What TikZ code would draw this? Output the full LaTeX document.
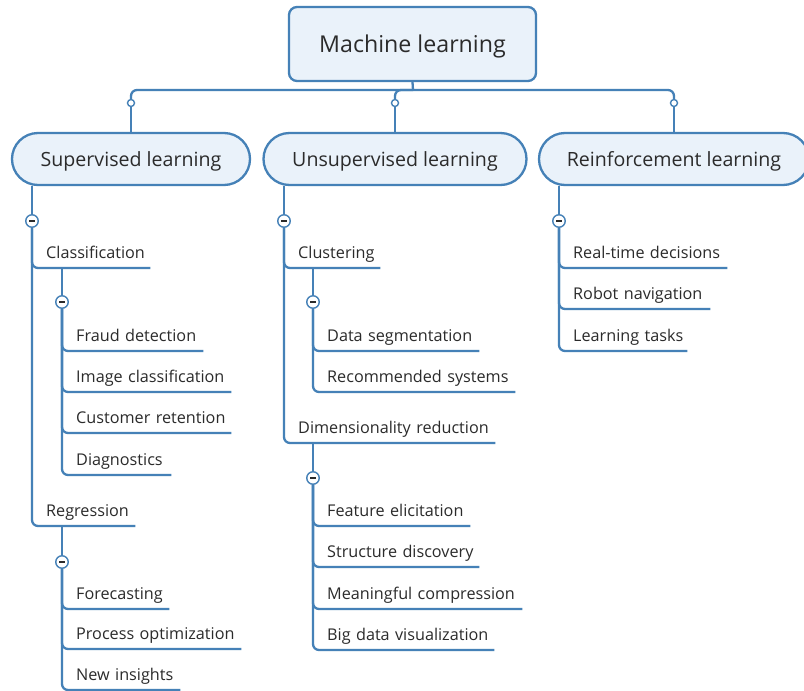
\documentclass[tikz,border=0pt]{standalone}
\usepackage{fontspec}
\setmainfont{Open Sans}
\definecolor{lineblue}{HTML}{4581B7}
\definecolor{boxfill}{HTML}{EAF2FA}
\definecolor{txt}{HTML}{2B2B2B}
\begin{document}
\begin{tikzpicture}[x=1pt,y=-1pt,
  conn/.style={draw=lineblue, line width=2.3pt, rounded corners=6pt},
  rootbox/.style={draw=lineblue, fill=boxfill, line width=2.3pt, rounded corners=8pt,
    minimum width=247pt, minimum height=74pt, text depth=0pt, text=txt, font=\fontsize{23.2}{27}\selectfont},
  topicbox/.style={draw=lineblue, fill=boxfill, line width=2.3pt, rounded corners=26pt,
    minimum height=52pt, text depth=0pt, text=txt, font=\fontsize{19.6}{23}\selectfont},
  knob/.style={circle, draw=lineblue, fill=white, line width=1.4pt, minimum size=7pt, inner sep=0pt},
  minusknob/.style={circle, draw=lineblue, fill=white, line width=1.4pt, minimum size=12.5pt, inner sep=0pt,
    path picture={\draw[line width=1.5pt, txt]
      ([xshift=-2.8pt]path picture bounding box.center) -- ([xshift=2.8pt]path picture bounding box.center);}},
  leaf/.style={anchor=south west, inner xsep=0pt, inner ysep=0pt, text depth=9pt, align=left,
    text=txt, font=\fontsize{16.2}{19}\selectfont},
]
\useasboundingbox (0,0) rectangle (804,691);
\clip (0,0) rectangle (804,691);
\fill[white] (0,0) rectangle (804,691);

% root and topics
\node[rootbox] (ml) at (412.5,44) {Machine learning};
\node[topicbox, minimum width=238pt] (sup) at (131,159) {Supervised learning};
\node[topicbox, minimum width=263pt] (uns) at (395,159) {Unsupervised learning};
\node[topicbox, minimum width=270pt] (rei) at (674,159) {Reinforcement learning};

\coordinate (hub) at (413,90);
\node[knob] (k1) at (131,103) {};
\node[knob] (k2) at (395,103) {};
\node[knob] (k3) at (674,103) {};

\draw[conn] (ml.south) -- (hub);
\draw[conn] (k1) |- (hub) -| (k3);
\draw[conn] (hub) -| (k2);
\draw[conn] (k1) -- (sup.north);
\draw[conn] (k2) -- (uns.north);
\draw[conn] (k3) -- (rei.north);

% ---------- Supervised ----------
\node[minusknob] (m1) at (32,221) {};
\node[leaf, text width=104pt] (cls) at (46,268) {Classification};
\node[leaf, text width=89pt] (reg) at (46,526) {Regression};
\draw[conn] (m1) -- (m1 |- sup.south);
\draw[conn] (m1) |- (cls.south east);
\draw[conn] (m1) |- (reg.south east);

\node[minusknob] (c1) at (62,302) {};
\node[leaf, text width=127pt] (fraud) at (76,351) {Fraud detection};
\node[leaf, text width=155pt] (img) at (76,392) {Image classification};
\node[leaf, text width=155pt] (cust) at (76,433) {Customer retention};
\node[leaf, text width=95pt] (diag) at (76,475) {Diagnostics};
\draw[conn] (c1) -- (c1 |- cls.south);
\foreach \n in {fraud,img,cust,diag} \draw[conn] (c1) |- (\n.south east);

\node[minusknob] (c2) at (62,562) {};
\node[leaf, text width=93pt] (fore) at (76,609) {Forecasting};
\node[leaf, text width=165pt] (proc) at (76,649) {Process optimization};
\node[leaf, text width=104pt] (newi) at (76,690) {New insights};
\draw[conn] (c2) -- (c2 |- reg.south);
\foreach \n in {fore,proc,newi} \draw[conn] (c2) |- (\n.south east);

% ---------- Unsupervised ----------
\node[minusknob] (m2) at (284,221) {};
\node[leaf, text width=82pt] (clu) at (298,268) {Clustering};
\node[leaf, text width=197pt] (dim) at (298,443) {Dimensionality reduction};
\draw[conn] (m2) -- (m2 |- uns.south);
\draw[conn] (m2) |- (clu.south east);
\draw[conn] (m2) |- (dim.south east);

\node[minusknob] (c3) at (313,302) {};
\node[leaf, text width=152pt] (dseg) at (327,351) {Data segmentation};
\node[leaf, text width=188pt] (recs) at (327,392) {Recommended systems};
\draw[conn] (c3) -- (c3 |- clu.south);
\foreach \n in {dseg,recs} \draw[conn] (c3) |- (\n.south east);

\node[minusknob] (c4) at (313,478) {};
\node[leaf, text width=143pt] (feat) at (327,526) {Feature elicitation};
\node[leaf, text width=152pt] (struc) at (327,567) {Structure discovery};
\node[leaf, text width=195pt] (mean) at (327,609) {Meaningful compression};
\node[leaf, text width=167pt] (bigd) at (327,650) {Big data visualization};
\draw[conn] (c4) -- (c4 |- dim.south);
\foreach \n in {feat,struc,mean,bigd} \draw[conn] (c4) |- (\n.south east);

% ---------- Reinforcement ----------
\node[minusknob] (m3) at (559,221) {};
\node[leaf, text width=154pt] (rtd) at (573,268) {Real-time decisions};
\node[leaf, text width=137pt] (robo) at (573,309) {Robot navigation};
\node[leaf, text width=114pt] (lta) at (573,351) {Learning tasks};
\draw[conn] (m3) -- (m3 |- rei.south);
\foreach \n in {rtd,robo,lta} \draw[conn] (m3) |- (\n.south east);
\end{tikzpicture}
\end{document}
